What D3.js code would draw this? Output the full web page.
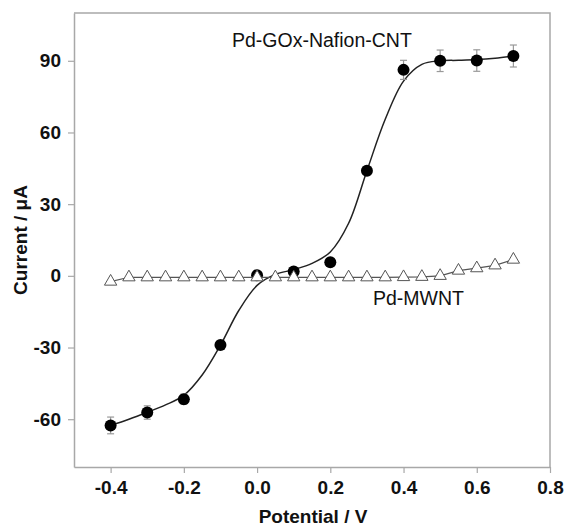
<!DOCTYPE html>
<html>
<head>
<meta charset="utf-8">
<script src="https://cdn.jsdelivr.net/npm/d3@7"></script>
<style>
  html, body { margin: 0; padding: 0; background: #fff; }
  svg { display: block; }
  text { font-family: "Liberation Sans", Arial, Helvetica, sans-serif; fill: #111; }
</style>
</head>
<body>
<svg id="chart" width="565" height="529"></svg>
<script>
// Pd-GOx-Nafion-CNT: measured current with error bars
const cntPotential = [-0.4, -0.3, -0.2, -0.1, 0.0, 0.1, 0.2, 0.3, 0.4, 0.5, 0.6, 0.7];
const cntCurrent   = [-62.6, -57.2, -51.6, -28.9, 0.3, 1.8, 5.7, 44.0, 86.2, 90.0, 90.1, 92.0];
const cntError     = [3.5, 2.8, 2.1, 1.0, 0.8, 0.8, 0.8, 1.0, 4.0, 4.5, 4.5, 4.6];

// Sigmoidal fit drawn through the CNT data
const fitPotential = [-0.4, -0.35, -0.3, -0.25, -0.2, -0.15, -0.1, -0.05, 0.0, 0.05, 0.1, 0.15, 0.2, 0.25, 0.3, 0.35, 0.4, 0.45, 0.5, 0.55, 0.6, 0.65, 0.7];
const fitCurrent   = [-62.6, -60.0, -57.1, -54.0, -50.0, -41.5, -29.0, -14.5, -4.0, 0.6, 2.6, 5.2, 10.0, 22.0, 44.0, 65.5, 81.5, 88.5, 90.0, 90.2, 90.5, 91.1, 92.0];

// Pd-MWNT
const mwntPotential = [-0.4, -0.35, -0.3, -0.25, -0.2, -0.15, -0.1, -0.05, 0.0, 0.05, 0.1, 0.15, 0.2, 0.25, 0.3, 0.35, 0.4, 0.45, 0.5, 0.55, 0.6, 0.65, 0.7];
const mwntCurrent   = [-2.4, -0.6, -0.6, -0.6, -0.6, -0.6, -0.6, -0.6, -0.6, -0.6, -0.6, -0.6, -0.6, -0.6, -0.6, -0.6, -0.5, -0.4, 0.0, 2.2, 3.2, 4.4, 6.8];

const xTicks = [-0.4, -0.2, 0.0, 0.2, 0.4, 0.6, 0.8];
const yTicks = [-60, -30, 0, 30, 60, 90];

const seriesLabels = ["Pd-GOx-Nafion-CNT", "Pd-MWNT"];
const xTitle = "Potential / V";
const yTitle = "Current / \u03bcA";

const svg = d3.select("#chart");
const margin = { left: 74, right: 15, top: 13, bottom: 62 };
const W = 565, H = 529;

const x = d3.scaleLinear().domain([-0.5, 0.8]).range([margin.left, W - margin.right]);
const y = d3.scaleLinear().domain([-80, 110]).range([H - margin.bottom, margin.top]);

const axisGrey = "#a8a8a8";
// plain hyphen for negative numbers
const fmtX = d => d.toFixed(1);
const fmtY = d => String(d);

// frame (top and right sides)
svg.append("path")
  .attr("d", `M${x(-0.5)},${y(110)}H${x(0.8)}V${y(-80)}`)
  .attr("fill", "none").attr("stroke", axisGrey).attr("stroke-width", 1.5);

// axes
const xAxis = svg.append("g")
  .attr("transform", `translate(0,${y(-80)})`)
  .call(d3.axisBottom(x).tickValues(xTicks).tickFormat(fmtX).tickSize(6).tickPadding(8).tickSizeOuter(0));
const yAxis = svg.append("g")
  .attr("transform", `translate(${x(-0.5)},0)`)
  .call(d3.axisLeft(y).tickValues(yTicks).tickFormat(fmtY).tickSize(6).tickPadding(6).tickSizeOuter(0));

[xAxis, yAxis].forEach(g => {
  g.select(".domain").attr("stroke", axisGrey).attr("stroke-width", 1.5);
  g.selectAll(".tick line").attr("stroke", axisGrey).attr("stroke-width", 1.2);
  g.selectAll(".tick text")
    .attr("font-family", '"Liberation Sans", Arial, sans-serif')
    .attr("font-size", 19).attr("font-weight", "bold").attr("fill", "#111");
});
xAxis.selectAll(".tick text").attr("dy", "0.71em");
yAxis.selectAll(".tick text").attr("dx", "-1");

// axis titles
svg.append("text")
  .attr("x", (x(-0.5) + x(0.8)) / 2 + 1).attr("y", 523)
  .attr("text-anchor", "middle")
  .attr("font-size", 19).attr("font-weight", "bold")
  .text(xTitle);
svg.append("text")
  .attr("transform", `translate(27,${(y(110) + y(-80)) / 2}) rotate(-90)`)
  .attr("text-anchor", "middle")
  .attr("font-size", 19).attr("font-weight", "bold")
  .text(yTitle);

// fitted curve
const fit = fitPotential.map((p, i) => ({ p, c: fitCurrent[i] }));
svg.append("path")
  .datum(fit)
  .attr("fill", "none").attr("stroke", "#222").attr("stroke-width", 1.5)
  .attr("d", d3.line().x(d => x(d.p)).y(d => y(d.c)).curve(d3.curveCatmullRom.alpha(0.5)));

// error bars
const cnt = cntPotential.map((p, i) => ({ p, c: cntCurrent[i], e: cntError[i] }));
const eb = svg.append("g").attr("stroke", "#999").attr("stroke-width", 1.2);
eb.selectAll("line.v").data(cnt).join("line").attr("class", "v")
  .attr("x1", d => x(d.p)).attr("x2", d => x(d.p))
  .attr("y1", d => y(d.c + d.e)).attr("y2", d => y(d.c - d.e));
eb.selectAll("line.t").data(cnt).join("line").attr("class", "t")
  .attr("x1", d => x(d.p) - 3.5).attr("x2", d => x(d.p) + 3.5)
  .attr("y1", d => y(d.c + d.e)).attr("y2", d => y(d.c + d.e));
eb.selectAll("line.b").data(cnt).join("line").attr("class", "b")
  .attr("x1", d => x(d.p) - 3.5).attr("x2", d => x(d.p) + 3.5)
  .attr("y1", d => y(d.c - d.e)).attr("y2", d => y(d.c - d.e));

// filled circles
svg.append("g").selectAll("circle")
  .data(cnt).join("circle")
  .attr("cx", d => x(d.p)).attr("cy", d => y(d.c)).attr("r", 6)
  .attr("fill", "#000");

// Pd-MWNT line and open triangles (on top of the circles)
const mwnt = mwntPotential.map((p, i) => ({ p, c: mwntCurrent[i] }));
svg.append("path")
  .datum(mwnt)
  .attr("fill", "none").attr("stroke", "#555").attr("stroke-width", 1.2)
  .attr("d", d3.line().x(d => x(d.p)).y(d => y(d.c)));
svg.append("g").selectAll("path")
  .data(mwnt).join("path")
  .attr("transform", d => `translate(${x(d.p)},${y(d.c)})`)
  .attr("d", d3.symbol(d3.symbolTriangle, 66))
  .attr("fill", "#fff").attr("stroke", "#555").attr("stroke-width", 1);

// series labels
svg.append("text").attr("x", 232).attr("y", 46.5)
  .attr("font-size", 19.5).text(seriesLabels[0]);
svg.append("text").attr("x", 373).attr("y", 305)
  .attr("font-size", 19.5).text(seriesLabels[1]);
</script>
</body>
</html>
